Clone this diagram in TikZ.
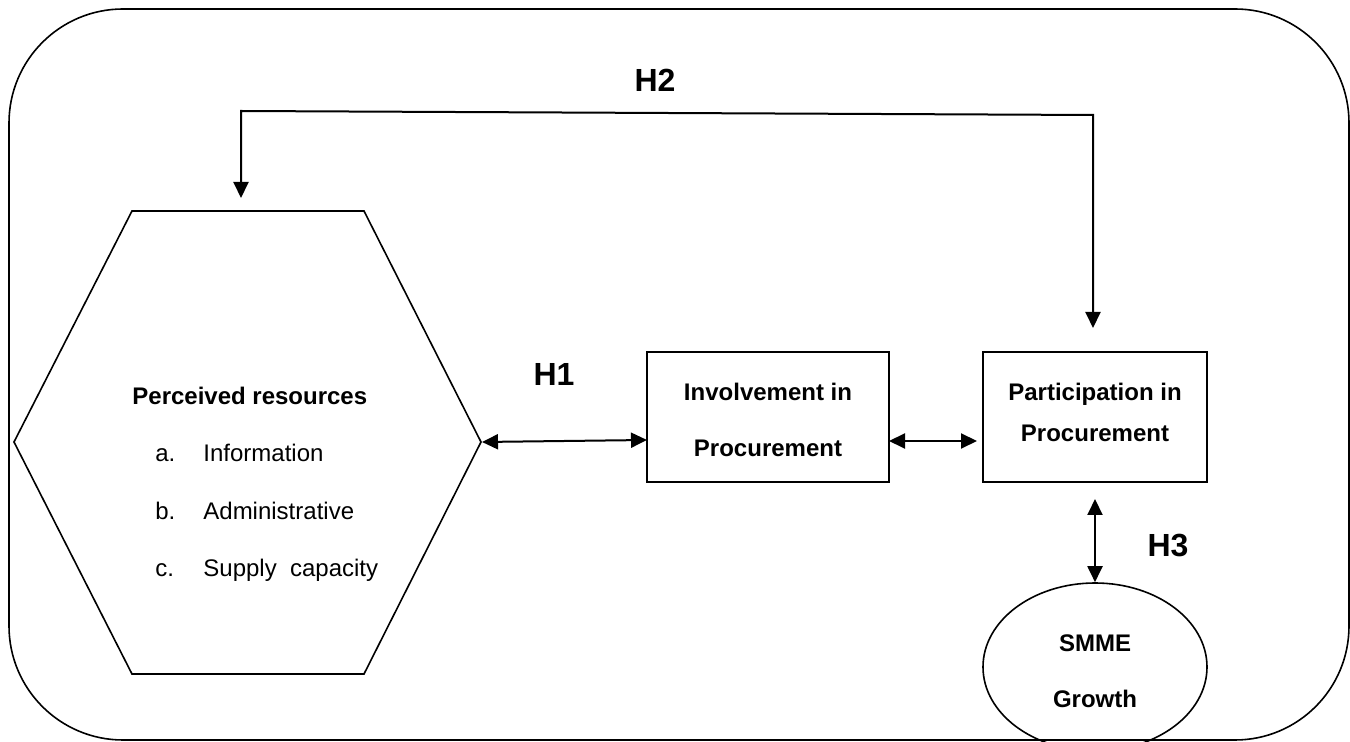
\documentclass[tikz,border=0pt]{standalone}
\usepackage{fontspec}
\setmainfont{Liberation Sans}
\usetikzlibrary{arrows.meta,calc,shapes.geometric}
\begin{document}
\begin{tikzpicture}[x=0.5pt,y=-0.5pt,
  tip/.style={line width=1pt,{Triangle[length=8pt,width=7.5pt]}-{Triangle[length=8pt,width=7.5pt]}},
  boxnode/.style={draw,line width=1pt,minimum width=121pt,minimum height=65pt,inner sep=0pt},
  txt/.style={font=\fontsize{12}{14}\selectfont\bfseries,anchor=base,inner sep=0pt},
  item/.style={font=\fontsize{12}{14}\selectfont,anchor=base west,inner sep=0pt},
  hlab/.style={font=\fontsize{16}{18}\selectfont\bfseries,anchor=base,inner sep=0pt}]
\useasboundingbox (0,0) rectangle (1350,742);
% outer frame
\draw[line width=0.8pt,rounded corners=57pt] (9,9) rectangle (1349,740);
% hexagon
\coordinate (hexT) at (241,211);
\coordinate (hexR) at (481,442);
\draw[line width=0.8pt,line join=miter] (132,211) -- (364,211) -- (hexR) -- (364,674) -- (132,674) -- (14,442) -- cycle;
\node[txt,anchor=base west] (pr) at (132,405) {Perceived resources};
\node[item] (ia) at (155,462) {a.};
\node[item] (ta) at (203,462) {Information};
\node[item] (ib) at (155,520) {b.};
\node[item] (tb) at (203,520) {Administrative};
\node[item] (ic) at (155,577) {c.};
\node[item] (tc) at (203,577) {Supply\ \ capacity};
% boxes
\node[boxnode] (inv) at (768,417) {};
\node[txt] (inv1) at (768,401) {Involvement in};
\node[txt] (inv2) at (768,457) {Procurement};
\node[boxnode,minimum width=112pt] (part) at (1095,417) {};
\node[txt] (part1) at (1095,401) {Participation in};
\node[txt] (part2) at (1095,442) {Procurement};
% ellipse
\node[draw,ellipse,line width=0.8pt,minimum width=112pt,minimum height=84pt,inner sep=0pt] (smme) at (1095,667) {};
\node[txt] (smme1) at (1095,652) {SMME};
\node[txt] (smme2) at (1095,708) {Growth};
% labels
\node[hlab] (h1) at (554,386) {H1};
\node[hlab] (h2) at (655,92) {H2};
\node[hlab] (h3) at (1168,557) {H3};
% connectors
\coordinate (h2a) at (241,111);
\coordinate (h2b) at (1093,115);
\coordinate (h2c) at (1093,328);
\coordinate (h2s) at (241,198);
\draw[tip,line join=miter] (h2s) -- (h2a) -- (h2b) -- (h2c);
\coordinate (invA) at (647,440);
\draw[tip] ($(hexR)+(1,0)$) -- (invA);
\coordinate (invB) at (889,441);
\coordinate (partA) at (977,441);
\draw[tip] (invB) -- (partA);
\coordinate (partS) at (1095,499);
\draw[tip] (partS) -- (smme.north);
\end{tikzpicture}
\end{document}
